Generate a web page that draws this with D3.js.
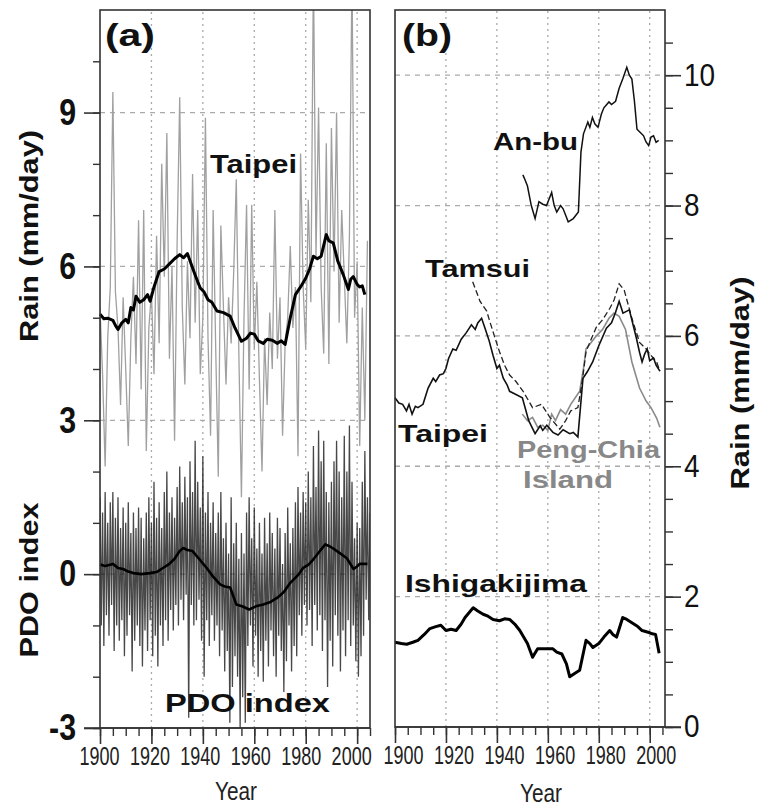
<!DOCTYPE html>
<html lang="en">
<head>
<meta charset="utf-8">
<title>Taipei rain and PDO</title>
<script src="https://cdn.jsdelivr.net/npm/d3@7"></script>
<style>
  body { margin: 0; background: #fff; }
  svg { font-family: "Liberation Sans", Arial, sans-serif; }
</style>
</head>
<body>
<script>
// ---- data ----
var firstYear = 1900

// (a) Taipei annual rain, mm/day, 1900-2004
var taipeiRain = [5.2,3.9,2.1,4.6,5.6,9.4,5.5,4.8,3.3,5.4,
                  4.0,2.5,4.6,5.8,4.1,6.9,3.6,7.1,2.4,4.8,
                  5.5,3.9,6.6,4.5,8.0,5.8,8.6,4.2,6.0,2.6,
                  6.5,9.3,5.2,3.7,6.1,4.6,7.8,4.9,7.1,3.9,
                  5.0,8.9,4.6,2.7,7.1,4.4,1.9,6.8,5.2,3.7,
                  5.4,4.5,5.9,7.7,4.3,1.5,5.0,7.2,3.6,7.2,
                  4.4,5.7,3.8,2.0,4.6,3.3,5.1,4.0,7.1,4.2,
                  5.4,2.7,4.5,5.0,6.4,4.8,5.6,2.3,8.2,5.6,
                  4.4,7.3,5.3,11.8,6.2,9.1,5.6,4.3,8.4,4.1,
                  8.7,5.9,9.0,4.9,7.1,5.8,4.5,6.6,11.8,5.0,
                  6.1,2.5,5.2,3.0,6.5]

// (a) Taipei running mean
var taipeiMeanA = [[1900,5.07],[1901.5,4.98],[1903,4.99],[1905,4.95],[1906,4.85],[1907,4.77],[1908.5,4.9],
                   [1910,4.97],[1911,4.9],[1912,5.2],[1913,5.15],[1914,5.42],[1915.5,5.3],[1917,5.35],
                   [1918.5,5.45],[1919.5,5.32],[1921,5.6],[1923,5.9],[1925,5.95],[1927,6.05],[1929,6.15],
                   [1931,6.23],[1932.5,6.17],[1934,6.25],[1936.5,5.9],[1938,5.7],[1939,5.58],[1940.5,5.5],
                   [1942,5.35],[1943.5,5.3],[1945.5,5.13],[1948,5.1],[1950.6,5.03],[1952.5,4.8],
                   [1955,4.54],[1957,4.6],[1958.5,4.7],[1960,4.68],[1961.5,4.55],[1963.5,4.5],[1965,4.58],
                   [1967,4.56],[1969,4.5],[1970.5,4.55],[1972,4.48],[1974,5.0],[1976,5.45],[1978,5.6],
                   [1980,5.77],[1981.5,5.95],[1983,6.2],[1984.5,6.15],[1986,6.2],[1988,6.62],[1989,6.5],
                   [1990.7,6.46],[1992.5,6.1],[1994.6,5.84],[1996.6,5.55],[1997.5,5.75],[1998.5,5.8],
                   [2000,5.65],[2001,5.6],[2002,5.62],[2003,5.45]]

// (a) PDO index: highest and lowest value of each year, 1900-2005
var pdoHigh = [1.5,1.2,1.6,1.0,1.4,1.6,1.1,1.5,0.9,1.3,
               1.0,1.4,0.8,1.2,0.9,1.3,1.1,0.7,1.2,1.5,
               1.0,1.8,1.1,1.4,0.9,1.6,2.0,1.2,1.5,1.1,
               1.7,2.1,1.4,1.9,1.5,2.2,1.6,2.6,1.8,1.3,
               2.3,1.2,1.6,1.0,1.4,0.8,1.2,1.6,0.7,1.0,
               0.4,1.5,0.6,1.0,0.3,0.8,0.4,1.2,1.5,0.7,
               1.3,0.5,1.0,0.4,1.1,0.6,1.2,0.8,0.5,1.1,
               0.9,0.2,0.8,1.3,0.6,0.9,1.4,1.7,1.2,1.6,
               1.4,2.0,1.5,2.5,1.7,2.8,2.2,2.6,1.6,1.4,
               1.8,2.2,2.6,2.0,1.5,2.7,2.0,2.9,1.8,0.7,
               1.0,0.9,1.8,2.4,1.5,1.2]
var pdoLow = [-1.0,-1.4,-0.8,-1.2,-0.6,-1.5,-1.0,-1.3,-0.9,-1.6,
              -1.2,-0.8,-1.9,-1.3,-1.0,-1.4,-1.8,-1.1,-1.5,-0.9,
              -1.6,-1.2,-1.8,-1.0,-1.4,-0.9,-1.3,-0.7,-1.1,-0.6,
              -1.0,-0.5,-0.9,-0.4,-2.8,-0.6,-1.0,-0.9,-0.5,-1.3,
              -2.0,-0.9,-1.4,-0.8,-1.3,-1.0,-1.6,-1.1,-1.9,-1.5,
              -2.9,-2.2,-1.6,-2.0,-3.0,-2.4,-2.9,-1.4,-1.0,-1.8,
              -1.2,-2.0,-1.5,-2.1,-1.3,-1.8,-1.1,-1.6,-2.0,-1.2,
              -1.5,-2.3,-1.7,-1.0,-1.9,-1.4,-1.6,-0.8,-1.2,-0.6,
              -1.0,-0.7,-1.4,-0.6,-1.1,-0.8,-1.5,-0.9,-2.2,-1.3,
              -1.8,-0.8,-1.2,-1.9,-1.1,-1.6,-0.9,-1.4,-1.0,-1.7,
              -2.0,-1.6,-1.2,-0.5,-0.9,-0.6]

// (a) PDO running mean
var pdoMean = [[1900,0.19],[1902,0.16],[1905,0.2],[1907,0.12],[1909,0.1],[1911,0.05],[1913,0.02],
               [1916,0.0],[1919.5,0.02],[1922,0.04],[1924.5,0.12],[1927,0.2],[1929,0.3],[1931,0.45],
               [1932.4,0.51],[1934,0.47],[1936,0.45],[1938.5,0.3],[1941.5,0.12],[1944,-0.05],
               [1946.7,-0.2],[1948.5,-0.24],[1950.6,-0.26],[1953,-0.59],[1955.5,-0.63],[1958,-0.69],
               [1961,-0.62],[1963.5,-0.59],[1966,-0.55],[1969,-0.46],[1971.5,-0.35],[1974,-0.17],
               [1977,-0.02],[1979,0.12],[1981,0.18],[1983,0.29],[1985.5,0.45],[1987.6,0.58],
               [1989,0.55],[1990.7,0.5],[1993,0.42],[1996,0.31],[1998.6,0.1],[2000,0.15],[2001,0.2],
               [2004,0.2]]

// (b) running means, mm/day
var taipeiMeanB = [[1900,5.05],[1901.5,4.97],[1903,4.95],[1904.5,4.85],[1905.5,4.95],[1906.7,4.8],[1908,4.92],
                   [1909,4.9],[1911,4.95],[1913,5.2],[1915,5.35],[1916,5.3],[1917.5,5.4],[1919,5.42],
                   [1920,5.5],[1921,5.65],[1922.7,5.8],[1924,5.78],[1926,5.95],[1928,6.05],[1930,6.17],
                   [1931.5,6.1],[1932.5,6.2],[1934,6.27],[1935.5,6.1],[1937,5.92],[1938.5,5.7],[1940,5.5],
                   [1941,5.55],[1942.5,5.35],[1944,5.25],[1945,5.15],[1947.5,5.1],[1950,5.05],[1952.5,4.7],
                   [1955,4.5],[1957,4.62],[1958,4.55],[1959.6,4.63],[1962,4.52],[1964,4.48],[1966,4.56],
                   [1968.6,4.5],[1970,4.52],[1971.8,4.45],[1973.8,5.35],[1975.5,5.45],[1977.6,5.6],
                   [1980,5.85],[1983,6.12],[1985,6.2],[1986.5,6.35],[1988,6.53],[1989.5,6.35],[1992,6.4],
                   [1994.8,5.96],[1996,5.75],[1997,5.6],[1998,5.72],[1999,5.8],[2000,5.62],[2001.5,5.66],
                   [2002.5,5.55],[2004,5.46]]
var tamsuiMean = [[1930.5,6.83],[1933.4,6.53],[1936,6.38],[1937,6.25],[1939,6.0],[1941,5.76],[1943,5.55],
                  [1945,5.4],[1947.5,5.3],[1950.3,5.15],[1954,4.9],[1957.5,4.95],[1960.8,4.75],
                  [1964.7,4.57],[1967,4.7],[1969,4.85],[1971.8,4.9],[1973.5,5.3],[1975,5.76],[1977,5.95],
                  [1979,6.13],[1981.5,6.25],[1984.3,6.42],[1986,6.55],[1988,6.8],[1990,6.7],[1993,6.27],
                  [1996,5.9],[1998.6,5.8],[2000.5,5.7],[2002.7,5.6],[2004,5.46]]
var pengChiaMean = [[1950,4.8],[1952,4.7],[1954,4.75],[1956,4.6],[1958,4.63],[1960,4.55],[1961.5,4.8],
                    [1963,4.7],[1965,4.87],[1967,4.8],[1969,4.95],[1972.5,5.15],[1974,5.5],[1975,5.8],
                    [1977,5.9],[1979,6.0],[1981.5,6.1],[1984,6.27],[1986,6.35],[1988,6.3],[1990.5,6.1],
                    [1993,5.6],[1996,5.2],[1998.6,5.0],[2000.5,4.9],[2002.7,4.74],[2004,4.6]]
var anbuMean = [[1950.2,8.47],[1951,8.4],[1952,8.3],[1953.5,8.0],[1955,7.8],[1956.5,8.06],[1958,8.02],
                [1959.5,8.0],[1960.5,8.1],[1961.5,8.2],[1962.5,8.0],[1963.5,7.9],[1965,8.0],[1966,7.95],
                [1967,7.85],[1968,7.75],[1970,7.8],[1972,7.9],[1973,8.82],[1974,9.1],[1975.7,9.28],
                [1976.5,9.2],[1977.5,9.35],[1978.5,9.25],[1979.7,9.2],[1981,9.4],[1982,9.5],[1984,9.59],
                [1985,9.55],[1986.6,9.6],[1988,9.8],[1989.4,9.94],[1991,10.12],[1992,10.0],[1993,9.94],
                [1994,9.6],[1995,9.17],[1996.3,9.12],[1997.6,9.07],[1998.5,8.98],[1999.6,8.92],
                [2000.5,9.05],[2001.5,9.07],[2002.5,8.97],[2003.5,9.0]]
var ishigakiMean = [[1900,1.3],[1902.5,1.28],[1904.6,1.27],[1907,1.3],[1909,1.33],[1911.5,1.42],
                    [1913.7,1.51],[1916,1.54],[1918,1.56],[1920,1.48],[1922,1.5],[1924,1.48],[1926,1.58],
                    [1927.5,1.68],[1930.7,1.83],[1932.5,1.78],[1934.6,1.73],[1936.5,1.7],[1938.5,1.65],
                    [1941,1.63],[1943,1.66],[1945,1.65],[1947,1.58],[1949,1.48],[1950.5,1.38],[1952,1.28],
                    [1954,1.07],[1956,1.2],[1959,1.2],[1962,1.2],[1963.5,1.15],[1965.5,1.12],[1967.3,0.97],
                    [1968.6,0.77],[1970.5,0.82],[1972.5,0.87],[1975,1.33],[1976.5,1.28],[1977.7,1.22],
                    [1980,1.28],[1982,1.38],[1984.3,1.48],[1985.5,1.42],[1987,1.38],[1989.4,1.68],
                    [1991,1.65],[1993,1.6],[1995,1.55],[1997,1.48],[1999.7,1.45],[2001,1.43],
                    [2002.3,1.42],[2003.7,1.13]]

var yearTicks = [1900, 1920, 1940, 1960, 1980, 2000]
var aTicks = [-3, 0, 3, 6, 9]
var bTicks = [0, 2, 4, 6, 8, 10]

// ---- drawing ----
var w = 757, h = 808
var svg = d3.select("body").append("svg").attr("width", w).attr("height", h)

var xA = d3.scaleLinear().domain([1900, 2005]).range([100, 370])
var yA = d3.scaleLinear().domain([-3, 11]).range([728, 10])
var xB = d3.scaleLinear().domain([1900, 2006]).range([395, 665])
var yB = d3.scaleLinear().domain([0, 11]).range([727, 10])

var ink = "#333"

function squeeze(sel, k) {
  sel.each(function() {
    var len = this.getComputedTextLength()
    d3.select(this).attr("textLength", len * k).attr("lengthAdjust", "spacingAndGlyphs")
  })
}

function label(txt, x, y, size, width, opts) {
  opts = opts || {}
  var t = svg.append("text")
    .attr("x", x).attr("y", y)
    .attr("font-size", size + "px")
    .attr("font-weight", opts.weight || "bold")
    .attr("fill", opts.fill || "#111")
    .attr("text-anchor", opts.anchor || "start")
    .text(txt)
  if (opts.rotate) t.attr("transform", "rotate(-90," + x + "," + y + ")")
  if (width) t.attr("textLength", width).attr("lengthAdjust", "spacingAndGlyphs")
  return t
}

function grid(x, y, hVals) {
  var x0 = x.range()[0], x1 = x.range()[1]
  var y0 = y.range()[0], y1 = y.range()[1]
  svg.append("g").selectAll("line")
    .data(yearTicks.slice(1))
    .enter().append("line")
    .attr("x1", function(d) { return x(d) }).attr("x2", function(d) { return x(d) })
    .attr("y1", y0).attr("y2", y1)
    .attr("stroke", "#aaa").attr("stroke-width", 1.3).attr("stroke-dasharray", "2,4")
  svg.append("g").selectAll("line")
    .data(hVals)
    .enter().append("line")
    .attr("x1", x0).attr("x2", x1)
    .attr("y1", function(d) { return y(d) }).attr("y2", function(d) { return y(d) })
    .attr("stroke", "#aaa").attr("stroke-width", 1.3).attr("stroke-dasharray", "5,5")
}

// labelShift: how far each year label sits off its tick (px), as in the figure
function xAxis(x, y0, labelShift, leftExt) {
  svg.append("g").attr("transform", "translate(0," + y0 + ")")
    .call(d3.axisBottom(x).tickValues(d3.range(1900, 2006, 5)).tickSize(8).tickFormat(""))
    .call(function(g) { g.select(".domain").remove() })
    .selectAll("line").attr("stroke", ink).attr("stroke-width", 1.4)
  var g = svg.append("g").attr("transform", "translate(0," + y0 + ")")
    .call(d3.axisBottom(x).tickValues(yearTicks).tickSize(16).tickPadding(3).tickFormat(d3.format("d")))
  g.select(".domain").remove()
  g.selectAll("line").attr("stroke", ink).attr("stroke-width", 1.6)
  var t = g.selectAll("text").attr("font-size", "25px").attr("fill", "#222")
    .attr("font-family", "'Liberation Sans', Arial, sans-serif").attr("dx", labelShift)
  squeeze(t, 0.72)
  svg.append("line").attr("x1", x.range()[0] - (leftExt ? 16 : 0)).attr("x2", x.range()[1] + (leftExt ? 0 : 16))
    .attr("y1", y0).attr("y2", y0).attr("stroke", ink).attr("stroke-width", 1.6)
}

// ---------- panel (a) ----------
svg.append("clipPath").attr("id", "clipA").append("rect")
  .attr("x", 100).attr("y", 10).attr("width", 270).attr("height", 718)

grid(xA, yA, [0, 3, 6, 9])

var lineA = d3.line().x(function(d) { return xA(d[0]) }).y(function(d) { return yA(d[1]) })

var rainPts = taipeiRain.map(function(v, i) { return [firstYear + i, v] })
svg.append("path").datum(rainPts)
  .attr("clip-path", "url(#clipA)")
  .attr("d", lineA).attr("fill", "none")
  .attr("stroke", "#a0a0a0").attr("stroke-width", 1.3)

var pdoPts = []
pdoHigh.forEach(function(v, i) {
  pdoPts.push([firstYear + i, v])
  pdoPts.push([firstYear + i + 0.5, pdoLow[i]])
})
svg.append("path").datum(pdoPts)
  .attr("clip-path", "url(#clipA)")
  .attr("d", lineA).attr("fill", "none")
  .attr("stroke", "#1a1a1a").attr("stroke-width", 1.3).attr("stroke-opacity", 0.8)

svg.append("path").datum(taipeiMeanA)
  .attr("d", lineA).attr("fill", "none")
  .attr("stroke", "#000").attr("stroke-width", 3).attr("stroke-linejoin", "round")
svg.append("path").datum(pdoMean)
  .attr("d", lineA).attr("fill", "none")
  .attr("stroke", "#000").attr("stroke-width", 2.6).attr("stroke-linejoin", "round")

svg.append("rect").attr("x", 100).attr("y", 10).attr("width", 270).attr("height", 718)
  .attr("fill", "none").attr("stroke", ink).attr("stroke-width", 1.6)

var gA1 = svg.append("g").attr("transform", "translate(100,0)")
  .call(d3.axisLeft(yA).tickValues(d3.range(-3, 11, 1)).tickSize(7).tickFormat(""))
gA1.select(".domain").remove()
gA1.selectAll("line").attr("stroke", ink).attr("stroke-width", 1.4)
var gA2 = svg.append("g").attr("transform", "translate(100,0)")
  .call(d3.axisLeft(yA).tickValues(aTicks).tickSize(16).tickPadding(8).tickFormat(String))
gA2.select(".domain").remove()
gA2.selectAll("line").attr("stroke", ink).attr("stroke-width", 1.6)
squeeze(gA2.selectAll("text").attr("font-size", "37px").attr("font-weight", "bold")
  .attr("fill", "#111").attr("font-family", "'Liberation Sans', Arial, sans-serif"), 0.82)

xAxis(xA, 728, function(d) { return -(d - 1900) / 20 - 1 }, true)

label("(a)", 105, 46, 31, 50)
label("Taipei", 210, 173, 25, 87)
label("PDO  index", 165, 712, 25, 165)
label("Rain (mm/day)", 38, 236, 26, 212, { anchor: "middle", rotate: true })
label("PDO index", 38, 580, 26, 155, { anchor: "middle", rotate: true })
label("Year", 236, 800, 26, 42, { anchor: "middle", weight: "normal", fill: "#222" })

// ---------- panel (b) ----------
grid(xB, yB, [2, 4, 6, 8, 10])

var lineB = d3.line().x(function(d) { return xB(d[0]) }).y(function(d) { return yB(d[1]) })

svg.append("path").datum(pengChiaMean).attr("d", lineB).attr("fill", "none")
  .attr("stroke", "#8a8a8a").attr("stroke-width", 1.6)
svg.append("path").datum(tamsuiMean).attr("d", lineB).attr("fill", "none")
  .attr("stroke", "#222").attr("stroke-width", 1.3).attr("stroke-dasharray", "6,3")
svg.append("path").datum(taipeiMeanB).attr("d", lineB).attr("fill", "none")
  .attr("stroke", "#111").attr("stroke-width", 1.6)
svg.append("path").datum(anbuMean).attr("d", lineB).attr("fill", "none")
  .attr("stroke", "#111").attr("stroke-width", 1.5)
svg.append("path").datum(ishigakiMean).attr("d", lineB).attr("fill", "none")
  .attr("stroke", "#000").attr("stroke-width", 3).attr("stroke-linejoin", "round")

svg.append("rect").attr("x", 395).attr("y", 10).attr("width", 270).attr("height", 717)
  .attr("fill", "none").attr("stroke", ink).attr("stroke-width", 1.6)

var gB1 = svg.append("g").attr("transform", "translate(665,0)")
  .call(d3.axisRight(yB).tickValues(d3.range(0, 11, 0.5)).tickSize(8).tickFormat(""))
gB1.select(".domain").remove()
gB1.selectAll("line").attr("stroke", ink).attr("stroke-width", 1.4)
var gB2 = svg.append("g").attr("transform", "translate(665,0)")
  .call(d3.axisRight(yB).tickValues(bTicks).tickSize(16).tickPadding(3))
gB2.select(".domain").remove()
gB2.selectAll("line").attr("stroke", ink).attr("stroke-width", 1.6)
squeeze(gB2.selectAll("text").attr("font-size", "31px").attr("fill", "#111")
  .attr("font-family", "'Liberation Sans', Arial, sans-serif"), 0.9)

xAxis(xB, 727, function(d) { return 8 - (d - 1900) / 50 }, false)

label("(b)", 402, 46, 31, 50)
label("An-bu", 493, 150, 24, 85)
label("Tamsui", 425, 277, 24, 105)
label("Taipei", 398, 442, 24, 90)
label("Peng-Chia", 517, 458, 24, 143, { fill: "#888" })
label("Island", 523, 488, 24, 90, { fill: "#888" })
label("Ishigakijima", 405, 592, 24, 182)
label("Rain (mm/day)", 749, 383, 26, 213, { anchor: "middle", rotate: true })
label("Year", 541, 802, 26, 42, { anchor: "middle", weight: "normal", fill: "#222" })
</script>
</body>
</html>
